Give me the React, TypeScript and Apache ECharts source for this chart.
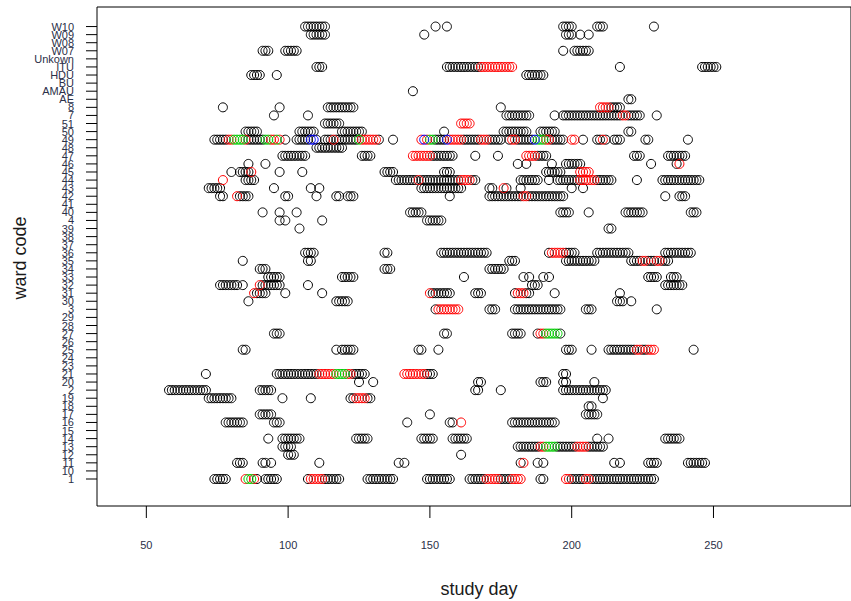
import React, { useEffect, useRef } from "react";
import * as echarts from "echarts";

// Ward codes, bottom to top, in factor-level order
const wards = [
  "1", "10", "11", "12", "13", "14", "15", "16", "17", "18", "19", "2", "20", "21",
  "23", "24", "25", "26", "27", "28", "29", "3", "30", "31", "32", "33", "34", "35",
  "36", "37", "38", "39", "4", "40", "41", "42", "43", "44", "45", "46", "47", "48",
  "49", "50", "51", "7", "8", "AE", "AMAU", "BU", "HDU", "ITU", "Unkown", "W07",
  "W08", "W09", "W10",
];

const xTickValues = [50, 100, 150, 200, 250];

// Study days on each ward, grouped by marker colour
const blackDays: [string, number[]][] = [
  ["W10", [106, 107, 108, 109, 110, 111, 112, 113, 152, 156, 197, 198, 199, 200, 209, 210, 211, 229]],
  ["W09", [108, 109, 110, 111, 112, 113, 148, 198, 199, 200, 203, 206]],
  ["W07", [91, 92, 93, 99, 100, 101, 102, 103, 197, 201, 202, 203, 204, 205, 206]],
  ["ITU", [110, 111, 112, 156, 157, 158, 159, 160, 161, 162, 163, 164, 165, 166, 167, 217, 246, 247, 248, 249, 250, 251]],
  ["HDU", [87, 88, 89, 90, 96, 184, 185, 186, 187, 188, 189, 190]],
  ["AMAU", [144]],
  ["AE", [220, 221]],
  ["8", [77, 97, 114, 115, 116, 117, 118, 119, 120, 121, 122, 123, 175, 214, 215, 216, 217]],
  ["7", [95, 107, 177, 178, 179, 180, 181, 182, 183, 184, 185, 194, 197, 198, 199, 200, 201, 202, 203, 204, 205, 206, 207, 208, 209, 210, 211, 212, 213, 214, 215, 216, 217, 220, 221, 222, 223, 224, 230]],
  ["51", [113, 114, 115, 116, 117, 118]],
  ["50", [85, 86, 87, 88, 89, 104, 105, 106, 107, 108, 109, 119, 120, 121, 122, 123, 124, 125, 126, 155, 176, 177, 178, 179, 180, 181, 182, 183, 184, 189, 190, 191, 192, 193, 194, 220, 221]],
  ["49", [74, 75, 76, 77, 78, 86, 87, 88, 89, 90, 91, 99, 103, 104, 105, 106, 107, 110, 113, 114, 115, 117, 118, 119, 120, 121, 122, 123, 124, 132, 137, 152, 153, 154, 155, 162, 163, 164, 165, 166, 167, 171, 172, 173, 174, 175, 178, 181, 182, 183, 184, 185, 186, 193, 194, 195, 196, 197, 204, 209, 210, 212, 215, 216, 217, 226, 227, 241]],
  ["48", [110, 111, 112, 113, 114, 115, 116, 117, 118, 119]],
  ["47", [98, 99, 100, 101, 102, 103, 104, 105, 106, 126, 127, 128, 129, 151, 152, 153, 154, 155, 156, 157, 158, 166, 174, 188, 189, 190, 191, 222, 223, 224, 234, 235, 236, 237, 238, 239, 240]],
  ["46", [86, 92, 181, 184, 193, 198, 199, 200, 201, 202, 203, 228, 237]],
  ["45", [80, 83, 84, 85, 86, 97, 105, 134, 135, 136, 137, 155, 156, 157, 191, 192, 193, 194, 195, 196]],
  ["44", [85, 86, 87, 88, 138, 139, 140, 141, 142, 143, 144, 145, 147, 148, 149, 150, 151, 152, 153, 154, 155, 156, 157, 158, 159, 160, 165, 166, 182, 183, 184, 185, 186, 187, 188, 192, 195, 196, 197, 198, 199, 200, 201, 202, 209, 210, 211, 212, 213, 214, 223, 232, 233, 234, 235, 236, 237, 238, 239, 240, 241, 242, 243, 244, 245]],
  ["43", [72, 73, 74, 75, 76, 95, 108, 111, 147, 148, 149, 150, 151, 152, 153, 154, 155, 156, 157, 158, 159, 160, 161, 171, 172, 177, 182, 200, 204]],
  ["42", [76, 77, 83, 84, 85, 86, 99, 100, 110, 117, 118, 121, 122, 123, 157, 171, 172, 173, 174, 175, 176, 177, 178, 179, 180, 181, 182, 185, 186, 187, 188, 189, 190, 191, 192, 193, 194, 195, 196, 197, 233, 238, 239, 240]],
  ["40", [91, 97, 103, 143, 144, 145, 146, 147, 196, 197, 198, 199, 206, 219, 220, 221, 222, 223, 224, 225, 242, 243, 244]],
  ["4", [97, 99, 112, 149, 150, 151, 152, 153, 154]],
  ["39", [104, 213, 214]],
  ["36", [106, 107, 108, 109, 134, 135, 154, 155, 156, 157, 158, 159, 160, 161, 162, 163, 164, 165, 166, 167, 168, 169, 170, 192, 198, 199, 200, 201, 209, 210, 211, 212, 213, 214, 215, 216, 217, 218, 219, 220, 233, 234, 235, 236, 237, 238, 239, 240, 241, 242]],
  ["35", [84, 107, 108, 178, 179, 180, 198, 199, 200, 201, 202, 203, 204, 205, 206, 207, 208, 221, 222, 223, 224, 227, 228, 229, 232, 233, 234]],
  ["34", [90, 91, 92, 134, 135, 136, 171, 172, 173, 174, 175, 176]],
  ["33", [93, 94, 95, 96, 97, 119, 120, 121, 122, 123, 162, 183, 185, 190, 192, 227, 228, 229, 230, 235, 236, 237]],
  ["32", [76, 77, 78, 79, 80, 81, 82, 84, 91, 92, 93, 94, 95, 96, 97, 107, 186, 187, 188, 233, 234, 235, 236, 237, 238, 239]],
  ["31", [89, 90, 91, 92, 99, 112, 151, 152, 153, 154, 155, 156, 157, 166, 167, 168, 180, 184, 185, 194, 217]],
  ["30", [86, 117, 118, 119, 120, 121, 216, 217, 218, 221]],
  ["3", [152, 171, 172, 173, 180, 181, 182, 183, 184, 185, 186, 187, 188, 189, 190, 191, 192, 193, 194, 195, 196, 205, 206, 207, 230]],
  ["27", [95, 96, 97, 155, 156, 179, 180, 181, 182, 188, 196]],
  ["25", [84, 85, 117, 119, 120, 121, 122, 123, 146, 147, 153, 198, 199, 200, 207, 213, 214, 215, 216, 217, 218, 219, 220, 221, 222, 225, 226, 243]],
  ["21", [71, 96, 97, 98, 99, 100, 101, 102, 103, 104, 105, 106, 107, 108, 109, 110, 123, 124, 125, 126, 127, 149, 150, 151, 197, 198]],
  ["20", [125, 130, 167, 168, 189, 190, 191, 197, 198, 208]],
  ["2", [58, 59, 60, 61, 62, 63, 64, 65, 66, 67, 68, 69, 70, 71, 90, 91, 92, 93, 94, 166, 167, 175, 197, 198, 199, 200, 201, 202, 203, 204, 205, 206, 207, 208, 209, 210, 211, 212]],
  ["19", [72, 73, 74, 75, 76, 77, 78, 79, 80, 98, 108, 122, 123, 128, 129, 211]],
  ["18", [206, 207]],
  ["17", [90, 91, 92, 93, 94, 150, 205, 206, 207, 208, 209]],
  ["16", [78, 79, 80, 81, 82, 83, 84, 95, 96, 97, 142, 157, 158, 179, 180, 181, 182, 183, 184, 185, 186, 187, 188, 189, 190, 191, 192, 193, 194]],
  ["14", [93, 98, 99, 100, 101, 102, 103, 104, 124, 125, 126, 127, 128, 147, 148, 149, 150, 151, 158, 159, 160, 161, 162, 163, 209, 213, 233, 234, 235, 236, 237, 238]],
  ["13", [98, 99, 100, 101, 181, 182, 183, 184, 185, 186, 187, 188, 195, 196, 197, 198, 199, 200, 201, 206, 207, 208, 209, 210, 211]],
  ["12", [100, 101, 102, 161]],
  ["11", [82, 83, 84, 91, 92, 94, 111, 139, 141, 182, 188, 190, 215, 217, 227, 228, 229, 230, 241, 242, 243, 244, 245, 246, 247]],
  ["1", [74, 75, 76, 77, 78, 89, 92, 93, 94, 95, 96, 107, 113, 114, 115, 116, 117, 118, 128, 129, 130, 131, 132, 133, 134, 135, 136, 137, 149, 150, 151, 152, 153, 154, 155, 156, 157, 164, 165, 166, 167, 168, 169, 175, 176, 177, 178, 189, 190, 200, 201, 202, 203, 204, 207, 208, 209, 210, 211, 212, 213, 214, 215, 216, 217, 218, 219, 220, 221, 222, 223, 224, 225, 226, 227, 228, 229]],
];

const redDays: [string, number[]][] = [
  ["ITU", [168, 169, 170, 171, 172, 173, 174, 175, 176, 177, 178, 179]],
  ["8", [210, 211, 212, 213]],
  ["7", [218, 219]],
  ["51", [161, 162, 163, 164]],
  ["49", [79, 80, 85, 94, 95, 97, 116, 126, 127, 128, 129, 130, 131, 147, 149, 157, 158, 159, 160, 161, 168, 169, 170, 179, 180, 191, 192, 200, 201, 211]],
  ["47", [144, 145, 146, 147, 148, 149, 150, 184, 185, 186, 187]],
  ["46", [238]],
  ["45", [87, 203, 204, 205, 206]],
  ["44", [77, 146, 161, 162, 163, 164, 203, 204, 205, 206, 207, 208]],
  ["43", [176]],
  ["42", [82, 183, 184]],
  ["36", [193, 194, 195, 196, 197]],
  ["35", [225, 226, 230, 231]],
  ["32", [90]],
  ["31", [88, 150, 181, 182, 183]],
  ["3", [153, 154, 155, 156, 157, 158, 159, 160]],
  ["27", [189, 190]],
  ["25", [223, 224, 227, 228, 229]],
  ["21", [111, 112, 113, 114, 115, 116, 121, 122, 141, 142, 143, 144, 145, 146, 147, 148]],
  ["19", [124, 125, 126, 127]],
  ["16", [161]],
  ["13", [189, 190, 202, 203, 204, 205]],
  ["11", [183]],
  ["1", [85, 88, 108, 109, 110, 111, 112, 170, 171, 172, 173, 174, 179, 180, 181, 182, 198, 199, 205, 206]],
];

const greenDays: [string, number[]][] = [
  ["49", [81, 82, 83, 84, 92, 93, 96, 125, 150, 151, 188, 189, 190]],
  ["27", [191, 192, 193, 194, 195]],
  ["21", [117, 118, 119, 120]],
  ["13", [191, 192, 193, 194]],
  ["1", [86, 87]],
];

const blueDays: [string, number[]][] = [
  ["49", [108, 109, 148, 156, 187]],
];

const X_MIN = 32.6;
const X_MAX = 298.5;
const Y_MIN = -3.34;
const Y_MAX = 58.42;

const toPoints = (groups: [string, number[]][]) =>
  groups.flatMap(([ward, days]) => {
    const row = wards.indexOf(ward);
    return days.map((d) => [d, row]);
  });

const labelFont = "'Liberation Sans', Arial, sans-serif";
const labelColour = "#2b3048";

const circleSeries = (name: string, colour: string, groups: [string, number[]][]) => ({
  name,
  type: "scatter",
  symbol: "circle",
  symbolSize: 9,
  silent: true,
  itemStyle: { color: "rgba(0,0,0,0)", borderColor: colour, borderWidth: 1, opacity: 1 },
  data: toPoints(groups),
});

const axisTitles = [
  {
    type: "text",
    x: 479,
    y: 589,
    style: {
      text: "study day",
      fontSize: 18,
      fontFamily: labelFont,
      fill: "#1a1a1a",
      align: "center",
      verticalAlign: "middle",
    },
  },
  {
    type: "text",
    x: 20,
    y: 258,
    rotation: Math.PI / 2,
    style: {
      text: "ward code",
      fontSize: 18,
      fontFamily: labelFont,
      fill: "#1a1a1a",
      align: "center",
      verticalAlign: "middle",
    },
  },
];

export default function App() {
  const ref = useRef<HTMLDivElement>(null);

  useEffect(() => {
    document.body.style.margin = "0";
    const chart = echarts.init(ref.current!, null, { renderer: "svg" });
    chart.setOption({
      animation: false,
      backgroundColor: "#ffffff",
      grid: {
        left: 97,
        right: -9,
        top: 7,
        bottom: 95,
        show: true,
        borderColor: "#000",
        borderWidth: 1,
        backgroundColor: "rgba(0,0,0,0)",
      },
      xAxis: {
        type: "value",
        position: "bottom",
        min: X_MIN,
        max: X_MAX,
        splitLine: { show: false },
        axisLine: { show: false, onZero: false },
        axisTick: { show: false },
        axisLabel: {
          customValues: xTickValues,
          margin: 33,
          fontSize: 11,
          color: labelColour,
          fontFamily: labelFont,
        },
      },
      yAxis: {
        type: "value",
        position: "left",
        min: Y_MIN,
        max: Y_MAX,
        splitLine: { show: false },
        axisLine: { show: false, onZero: false },
        axisTick: { show: false },
        axisLabel: { show: false },
      },
      graphic: axisTitles,
      series: [
        // ward labels along the left edge, one per factor level
        {
          type: "custom",
          silent: true,
          clip: false,
          data: wards.map((_, i) => [X_MIN, i]),
          renderItem: (_params: any, api: any) => {
            const i = api.value(1);
            const p = api.coord([X_MIN, i]);
            return {
              type: "text",
              x: p[0] - 23,
              y: p[1],
              style: {
                text: wards[i],
                align: "right",
                verticalAlign: "middle",
                fontSize: 11,
                fontFamily: labelFont,
                fill: labelColour,
              },
            };
          },
        },
        circleSeries("other", "#000000", blackDays),
        circleSeries("red", "#ff0000", redDays),
        circleSeries("green", "#00cd00", greenDays),
        circleSeries("blue", "#0000ff", blueDays),
      ],
    });

    // tick marks placed through the chart's own scales
    const tickStyle = { stroke: "#000000", lineWidth: 1 };
    const xTicks = xTickValues.map((v) => {
      const [px, py] = chart.convertToPixel({ gridIndex: 0 }, [v, Y_MIN]);
      return { type: "line", silent: true, z: 20, shape: { x1: px, y1: py, x2: px, y2: py + 12 }, style: tickStyle };
    });
    const yTicks = wards.map((_, i) => {
      const [px, py] = chart.convertToPixel({ gridIndex: 0 }, [X_MIN, i]);
      return { type: "line", silent: true, z: 20, shape: { x1: px - 11, y1: py, x2: px, y2: py }, style: tickStyle };
    });
    chart.setOption({ graphic: [...axisTitles, ...xTicks, ...yTicks] });

    return () => chart.dispose();
  }, []);

  return <div ref={ref} style={{ width: 851, height: 601, background: "#fff" }} />;
}
